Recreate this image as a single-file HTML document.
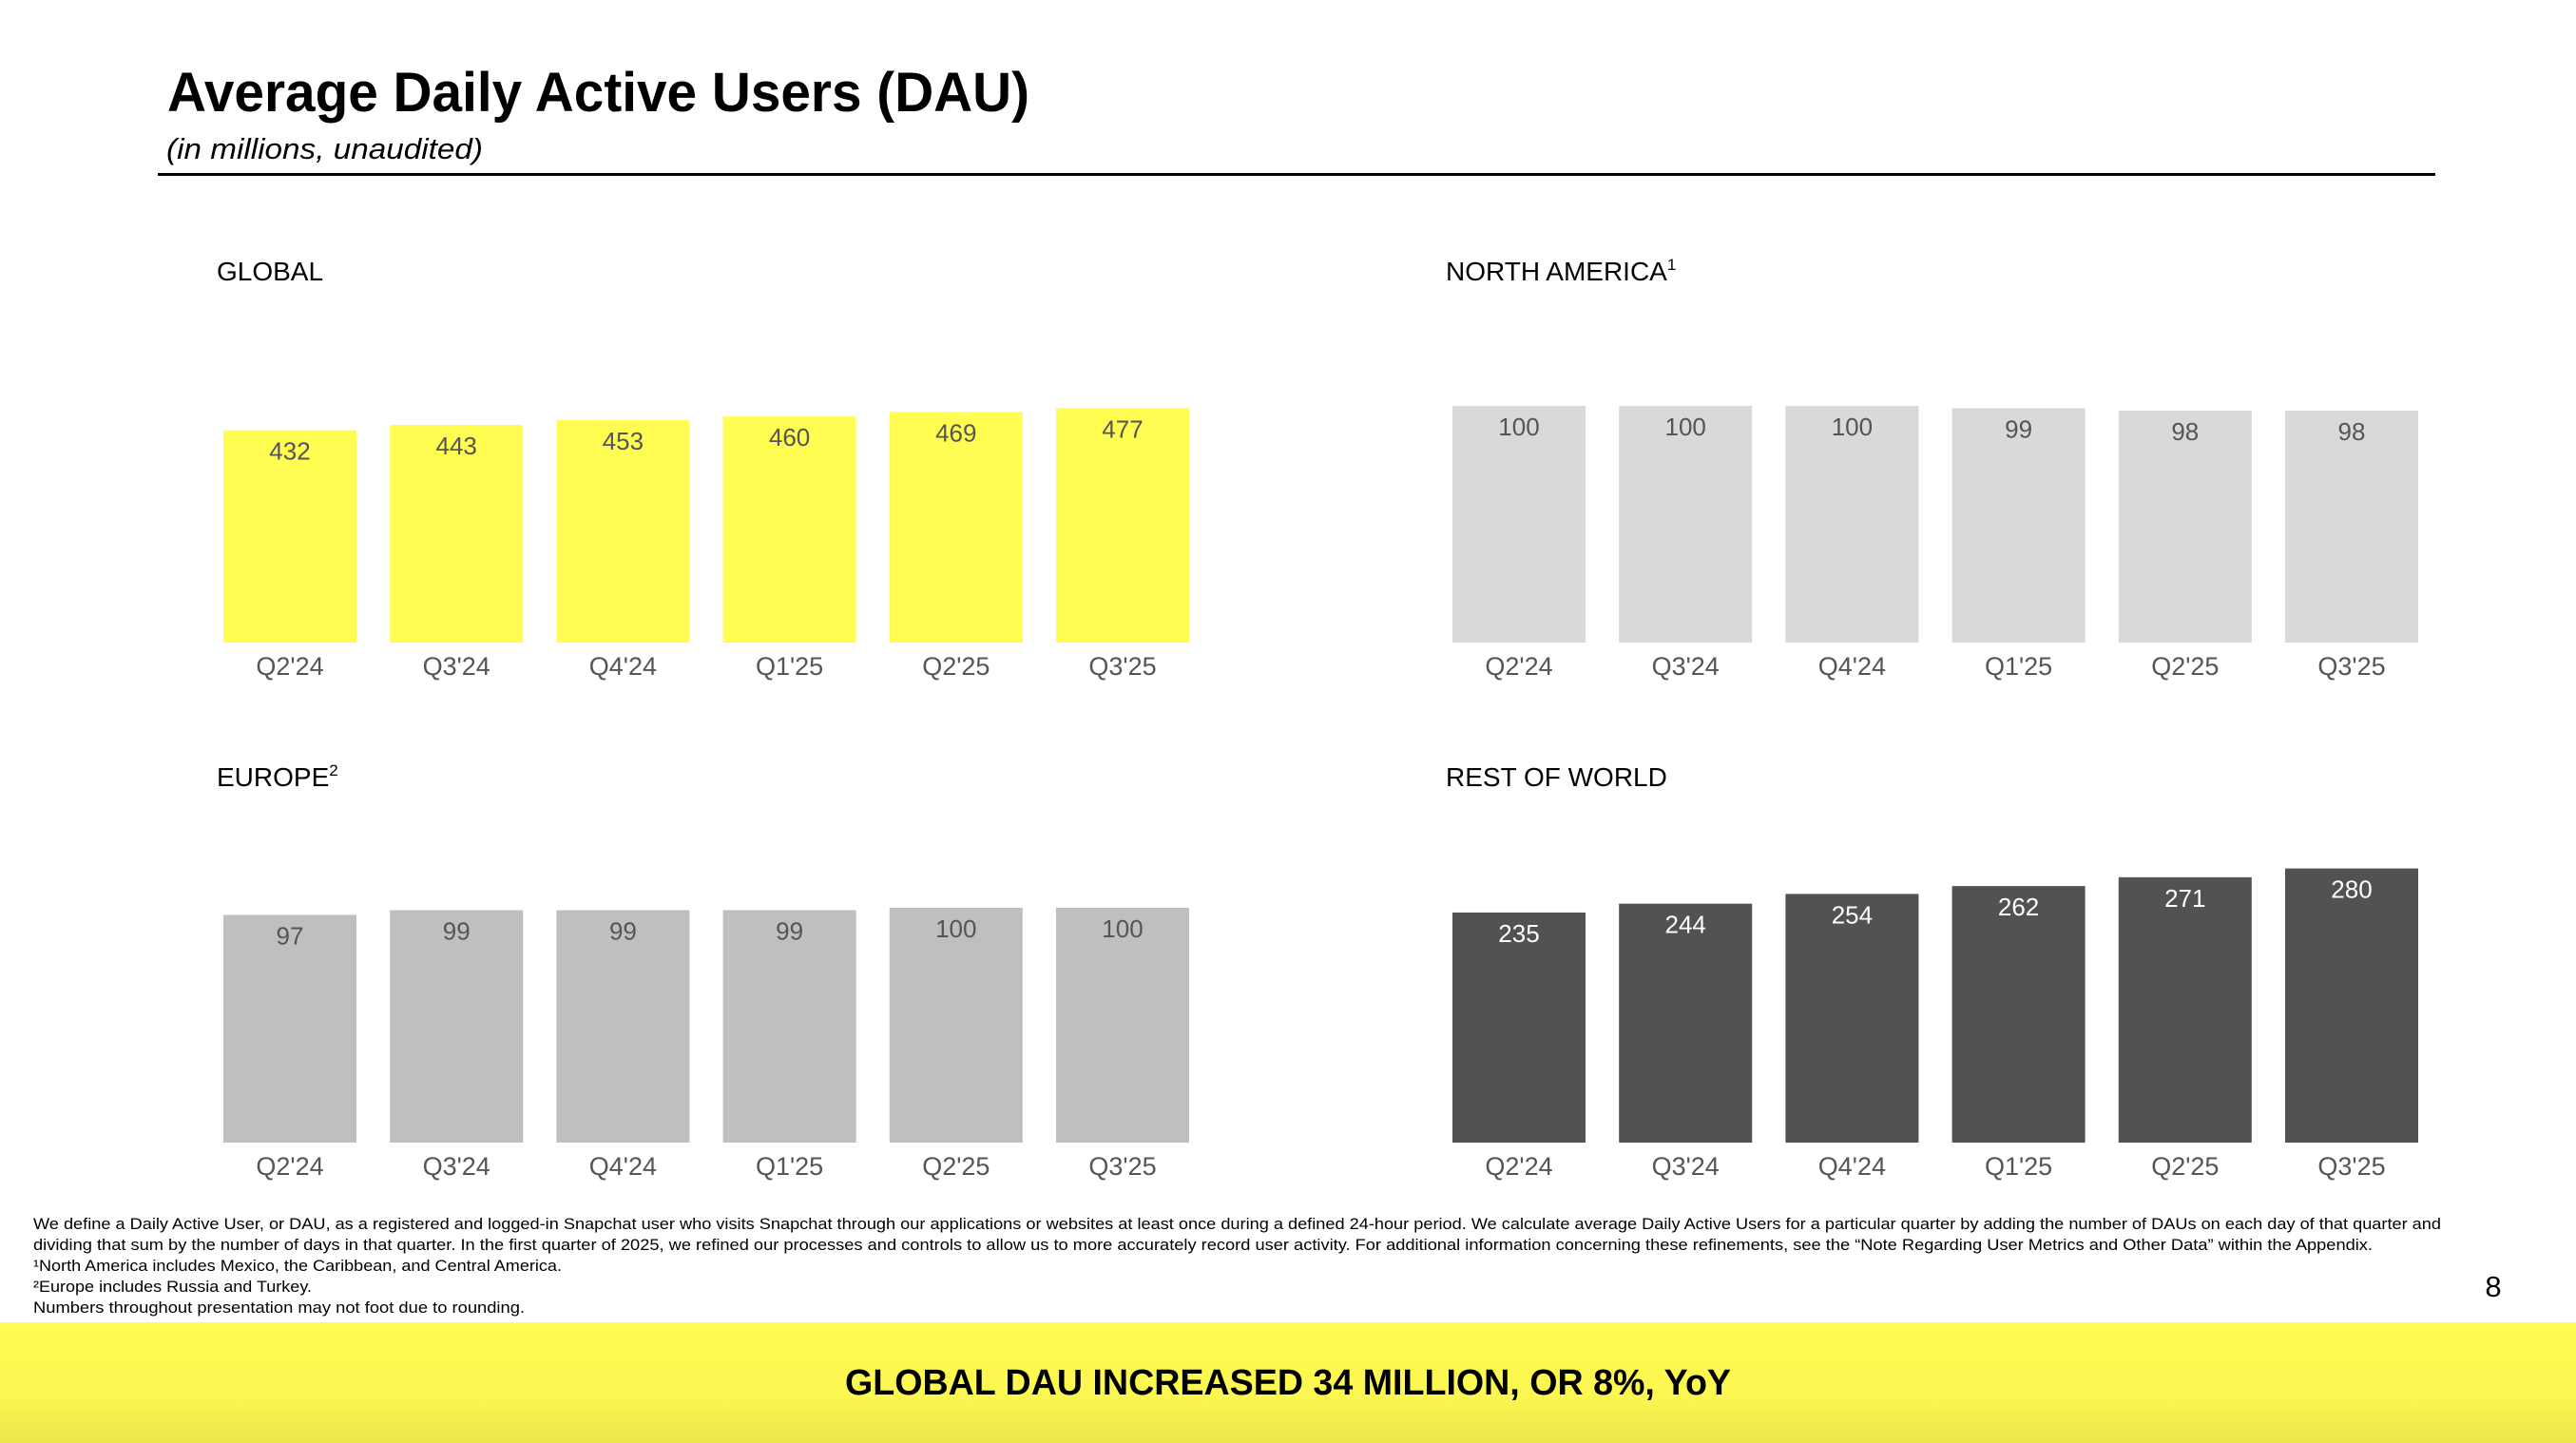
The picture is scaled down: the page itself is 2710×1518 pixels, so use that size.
<!DOCTYPE html>
<html><head><meta charset="utf-8"><style>
html,body{margin:0;padding:0;background:#fff;}
body{width:2710px;height:1518px;position:relative;overflow:hidden;font-family:"Liberation Sans",sans-serif;}
</style></head><body>
<svg id="s" width="2710" height="1518" xmlns="http://www.w3.org/2000/svg" style="position:absolute;left:0;top:0">
<defs><linearGradient id="yg" x1="0" y1="0" x2="0" y2="1"><stop offset="0" stop-color="#FFFC52"/><stop offset="0.6" stop-color="#FCF751"/><stop offset="1" stop-color="#EDE54A"/></linearGradient></defs>
<text x="176" y="117" font-size="58" font-weight="bold" fill="#000" textLength="907" lengthAdjust="spacingAndGlyphs">Average Daily Active Users (DAU)</text>
<text x="175" y="167" font-size="31" font-style="italic" fill="#000" textLength="333" lengthAdjust="spacingAndGlyphs">(in millions, unaudited)</text>
<rect x="166" y="182" width="2396" height="3" fill="#000"/>
<g id="charts"></g>
<g font-size="17" fill="#000">
<text x="35" y="1293" textLength="2533" lengthAdjust="spacingAndGlyphs">We define a Daily Active User, or DAU, as a registered and logged-in Snapchat user who visits Snapchat through our applications or websites at least once during a defined 24-hour period. We calculate average Daily Active Users for a particular quarter by adding the number of DAUs on each day of that quarter and</text>
<text x="35" y="1315" textLength="2461" lengthAdjust="spacingAndGlyphs">dividing that sum by the number of days in that quarter. In the first quarter of 2025, we refined our processes and controls to allow us to more accurately record user activity. For additional information concerning these refinements, see the “Note Regarding User Metrics and Other Data” within the Appendix.</text>
<text x="35" y="1337" textLength="556" lengthAdjust="spacingAndGlyphs">¹North America includes Mexico, the Caribbean, and Central America.</text>
<text x="35" y="1359" textLength="293" lengthAdjust="spacingAndGlyphs">²Europe includes Russia and Turkey.</text>
<text x="35" y="1381" textLength="517" lengthAdjust="spacingAndGlyphs">Numbers throughout presentation may not foot due to rounding.</text>
</g>
<text x="2623" y="1364" font-size="31" text-anchor="middle" fill="#000">8</text>
<rect x="0" y="1391" width="2710" height="127" fill="url(#yg)"/>
<text x="1355" y="1467" font-size="38" font-weight="bold" text-anchor="middle" fill="#000" textLength="932" lengthAdjust="spacingAndGlyphs">GLOBAL DAU INCREASED 34 MILLION, OR 8%, YoY</text>
</svg>
<script>
const categories = ["Q2'24","Q3'24","Q4'24","Q1'25","Q2'25","Q3'25"];
const globalValues = [432,443,453,460,469,477];
const northAmericaValues = [100,100,100,99,98,98];
const europeValues = [97,99,99,99,100,100];
const restOfWorldValues = [235,244,254,262,271,280];
const chartTitles = ["GLOBAL","NORTH AMERICA","EUROPE","REST OF WORLD"];
const NS="http://www.w3.org/2000/svg";
const g=document.getElementById('charts');
function mk(tag,attrs,parent){const e=document.createElementNS(NS,tag);for(const k in attrs)e.setAttribute(k,attrs[k]);parent.appendChild(e);return e;}
const panels=[
 {vals:globalValues,x0:235,base:676,scale:0.517,fill:"#FFFC52",lab:"#555",title:chartTitles[0],sup:"",tx:228,ty:295,name:"global"},
 {vals:northAmericaValues,x0:1528,base:676,scale:2.49,fill:"#D9D9D9",lab:"#555",title:chartTitles[1],sup:"1",tx:1521,ty:295,name:"north-america"},
 {vals:europeValues,x0:235,base:1202,scale:2.47,fill:"#BFBFBF",lab:"#555",title:chartTitles[2],sup:"2",tx:228,ty:827,name:"europe"},
 {vals:restOfWorldValues,x0:1528,base:1202,scale:1.03,fill:"#525252",lab:"#fff",title:chartTitles[3],sup:"",tx:1521,ty:827,name:"rest-of-world"}
];
const pitch=175.2, bw=140;
panels.forEach(p=>{
 const grp=mk('g',{},g);
 
 
 const t=mk('text',{x:p.tx,y:p.ty,'font-size':28,fill:'#000'},grp);
 
 
 t.textContent=p.title;
 if(p.sup){const s=mk('tspan',{'font-size':17,dy:-11},t);s.textContent=p.sup;}
 const y=v=>p.base-v*p.scale;
 p.vals.forEach((v,i)=>{
  const x=p.x0+i*pitch;
  const r=mk('rect',{x:x,y:y(v),width:bw,height:p.base-y(v),fill:p.fill},grp);
  
  
  const vt=mk('text',{x:x+bw/2,y:y(v)+31,'font-size':26,'text-anchor':'middle',fill:p.lab},grp);
  
  
  vt.textContent=v;
  const ct=mk('text',{x:x+bw/2,y:p.base+34,'font-size':27,'text-anchor':'middle',fill:'#555'},grp);
  
  
  ct.textContent=categories[i];
 });
});
</script>
</body></html>
